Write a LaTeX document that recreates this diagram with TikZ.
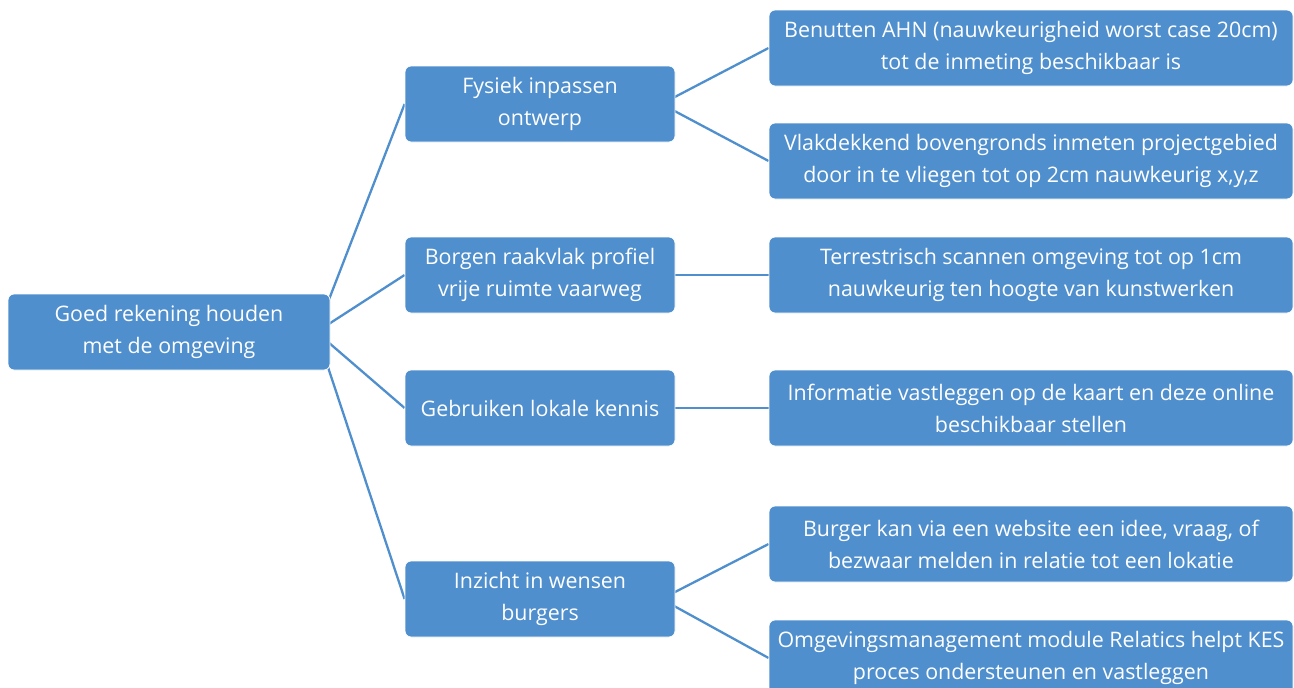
\documentclass[tikz,border=0pt]{standalone}
\usepackage{fontspec}
\setmainfont{Open Sans}
\usetikzlibrary{backgrounds}
\definecolor{smartblue}{RGB}{79,143,205}
\tikzset{
  box/.style={draw=white, line width=0.8pt, fill=smartblue, rounded corners=6pt, text=white,
    align=center, inner sep=0pt, minimum height=76pt, font=\fontsize{21.4}{32}\selectfont},
  rootbox/.style={box, minimum width=322pt},
  midbox/.style={box, minimum width=270pt},
  leafbox/.style={box, minimum width=524pt},
  link/.style={draw=smartblue, line width=2.3pt}
}
\begin{document}
\begin{tikzpicture}[x=1pt,y=-1pt]

\useasboundingbox (0,0) rectangle (1294,688);
\clip (0,0) rectangle (1294,688);

\node[rootbox] (root) at (169,332) {Goed rekening houden\\met de omgeving};

\node[midbox] (fysiek) at (540,104) {Fysiek inpassen\\ontwerp};
\node[midbox] (borgen) at (540,275) {Borgen raakvlak profiel\\vrije ruimte vaarweg};
\node[midbox] (kennis) at (540,408) {Gebruiken lokale kennis};
\node[midbox] (wensen) at (540,599) {Inzicht in wensen\\burgers};

\node[leafbox] (ahn) at (1031,48) {Benutten AHN (nauwkeurigheid worst case 20cm)\\tot de inmeting beschikbaar is};
\node[leafbox] (vlak) at (1031,161) {Vlakdekkend bovengronds inmeten projectgebied\\door in te vliegen tot op 2cm nauwkeurig x,y,z};
\node[leafbox] (scan) at (1031,275) {Terrestrisch scannen omgeving tot op 1cm\\nauwkeurig ten hoogte van kunstwerken};
\node[leafbox] (kaart) at (1031,408) {Informatie vastleggen op de kaart en deze online\\beschikbaar stellen};
\node[leafbox] (idee) at (1031,544) {Burger kan via een website een idee, vraag, of\\bezwaar melden in relatie tot een lokatie};
\node[leafbox] (relatics) at (1031,658) {Omgevingsmanagement module Relatics helpt KES\\proces ondersteunen en vastleggen};

\begin{scope}[on background layer]
\foreach \from/\to in {root/fysiek, root/borgen, root/kennis, root/wensen,
  fysiek/ahn, fysiek/vlak, borgen/scan, kennis/kaart, wensen/idee, wensen/relatics}
  \draw[link] ([xshift=-14pt]\from.east) -- (\to.west);
\end{scope}

\end{tikzpicture}
\end{document}
